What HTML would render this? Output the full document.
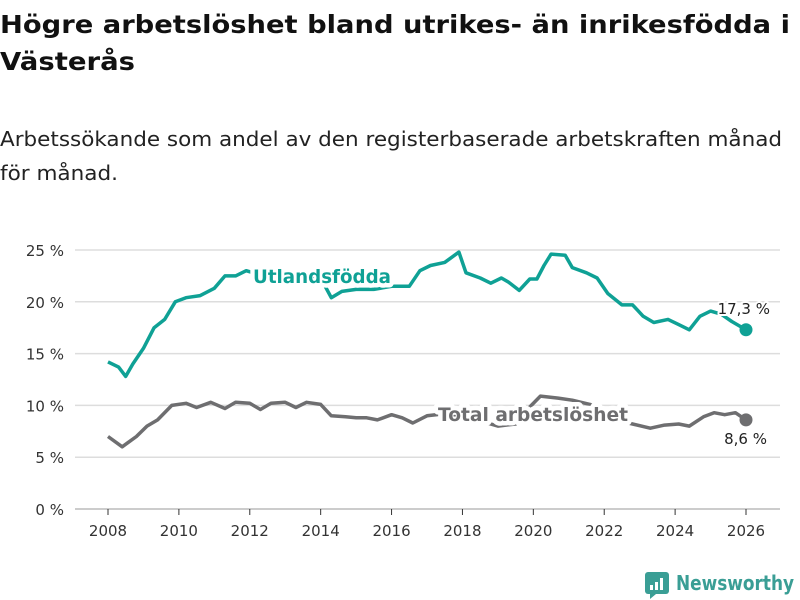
<!DOCTYPE html>
<html><head><meta charset="utf-8"><style>
body{margin:0;background:#fff;}
svg{display:block;font-family:"DejaVu Sans","Liberation Sans",sans-serif;}
</style></head><body>
<svg id="chart" width="800" height="600">
<text x="0" y="33" font-size="25" font-weight="bold" fill="#111" textLength="790" lengthAdjust="spacingAndGlyphs">Högre arbetslöshet bland utrikes- än inrikesfödda i</text>
<text x="0" y="70" font-size="25" font-weight="bold" fill="#111" textLength="135" lengthAdjust="spacingAndGlyphs">Västerås</text>
<text x="0" y="146" font-size="20" fill="#222" textLength="782" lengthAdjust="spacingAndGlyphs">Arbetssökande som andel av den registerbaserade arbetskraften månad</text>
<text x="0" y="180" font-size="20" fill="#222" textLength="118" lengthAdjust="spacingAndGlyphs">för månad.</text>
<g id="grid"></g><g id="axes"></g><g id="lines"></g><g id="halos"></g><g id="labels"></g>
<g>
<rect x="645" y="572" width="24" height="22" rx="3" fill="#3a9e95"/>
<polygon points="650,594 656,594 650,599" fill="#3a9e95"/>
<rect x="650" y="585" width="3" height="5" fill="#fff"/><rect x="655" y="582" width="3" height="8" fill="#fff"/><rect x="660" y="578" width="3" height="12" fill="#fff"/>
<text x="676" y="590" font-size="20" font-weight="bold" fill="#3a9e95" textLength="118" lengthAdjust="spacingAndGlyphs">Newsworthy</text>
</g>
</svg>
<script>
const yTicks=[0,5,10,15,20,25];
const xTicks=[2008,2010,2012,2014,2016,2018,2020,2022,2024,2026];
const utlYears=[2008,2008.3,2008.5,2008.7,2009,2009.3,2009.6,2009.9,2010.2,2010.6,2011,2011.3,2011.6,2011.9,2012.3,2012.7,2013.2,2013.6,2014,2014.3,2014.6,2015,2015.5,2016,2016.5,2016.8,2017.1,2017.5,2017.9,2018.1,2018.5,2018.8,2019.1,2019.3,2019.6,2019.9,2020.1,2020.3,2020.5,2020.9,2021.1,2021.5,2021.8,2022.1,2022.5,2022.8,2023.1,2023.4,2023.8,2024.1,2024.4,2024.7,2025,2025.3,2025.6,2026];
const utlValues=[14.2,13.7,12.8,14,15.5,17.5,18.3,20,20.4,20.6,21.3,22.5,22.5,23.0,22.6,22.5,22.4,22.6,22.3,20.4,21,21.2,21.2,21.5,21.5,23,23.5,23.8,24.8,22.8,22.3,21.8,22.3,21.9,21.1,22.2,22.2,23.5,24.6,24.5,23.3,22.8,22.3,20.8,19.7,19.7,18.6,18,18.3,17.8,17.3,18.6,19.1,18.8,18.1,17.3];
const totYears=[2008,2008.4,2008.8,2009.1,2009.4,2009.8,2010.2,2010.5,2010.9,2011.3,2011.6,2012,2012.3,2012.6,2013,2013.3,2013.6,2014,2014.3,2014.7,2015,2015.3,2015.6,2016,2016.3,2016.6,2017,2017.5,2018,2018.5,2019,2019.5,2019.8,2020.2,2020.7,2021.1,2021.6,2022,2022.3,2022.8,2023.3,2023.7,2024.1,2024.4,2024.8,2025.1,2025.4,2025.7,2026];
const totValues=[7,6,7,8,8.6,10,10.2,9.8,10.3,9.7,10.3,10.2,9.6,10.2,10.3,9.8,10.3,10.1,9,8.9,8.8,8.8,8.6,9.1,8.8,8.3,9,9.2,9,8.5,8.0,8.2,9.5,10.9,10.7,10.5,10.1,9.5,8.6,8.2,7.8,8.1,8.2,8,8.9,9.3,9.1,9.3,8.6];
const ns="http://www.w3.org/2000/svg";
const X=y=>108+(y-2008)*(746-108)/18;
const Y=v=>509-v*(509-250)/25;
function mk(tag,at,parent){const e=document.createElementNS(ns,tag);for(const k in at)e.setAttribute(k,at[k]);document.getElementById(parent).appendChild(e);return e;}
yTicks.forEach(v=>{
 const l=mk('line',{x1:75,x2:780,y1:Y(v),y2:Y(v),stroke:v===0?'#bbb':'#ddd','stroke-width':1.5},'grid');
 
 
 const t=mk('text',{x:64,y:Y(v)+6,'text-anchor':'end','font-size':15,fill:'#333'},'axes');
 t.textContent=v+' %';
 
 
});
xTicks.forEach(y=>{
 const tk=mk('line',{x1:X(y),x2:X(y),y1:509,y2:515,stroke:'#333','stroke-width':1},'axes');
 
 
 const t=mk('text',{x:X(y),y:536,'text-anchor':'middle','font-size':15,fill:'#333'},'axes');
 t.textContent=y;
 
 
});
function series(xs,vs,color,name){
 const d=xs.map((x,i)=>(i?'L':'M')+X(x).toFixed(1)+','+Y(vs[i]).toFixed(1)).join('');
 const p=mk('path',{d:d,fill:'none',stroke:color,'stroke-width':3.5,'stroke-linejoin':'round'},'lines');
 
 
 const c=mk('circle',{cx:X(xs[xs.length-1]),cy:Y(vs[vs.length-1]),r:6.5,fill:color},'lines');
 
 
}
series(utlYears,utlValues,'#0fa195','utlandsfodda');
series(totYears,totValues,'#6e6e70','total');
function lab(x,y,txt,color,size,bold,anchor,name,len){
 const base={x:x,y:y,'font-size':size,'font-weight':bold?'bold':'normal','text-anchor':anchor};
 if(len){base.textLength=len;base.lengthAdjust='spacingAndGlyphs';}
 const h=mk('text',Object.assign({},base,{fill:'#fff',stroke:'#fff','stroke-width':bold?9:4,'stroke-linejoin':'round'}),'halos');
 h.textContent=txt;
 
 
 const t=mk('text',Object.assign({},base,{fill:color}),'labels');
 t.textContent=txt;
 
 
}
lab(253,283,'Utlandsfödda','#0fa195',19,true,'start','utlandsfodda-label',138);
lab(438,421,'Total arbetslöshet','#6e6e70',19,true,'start','total-label',190);
lab(770,314,'17,3 %','#222',15,false,'end','utlandsfodda-value-label');
lab(767,444,'8,6 %','#222',15,false,'end','total-value-label');
</script>
</body></html>
